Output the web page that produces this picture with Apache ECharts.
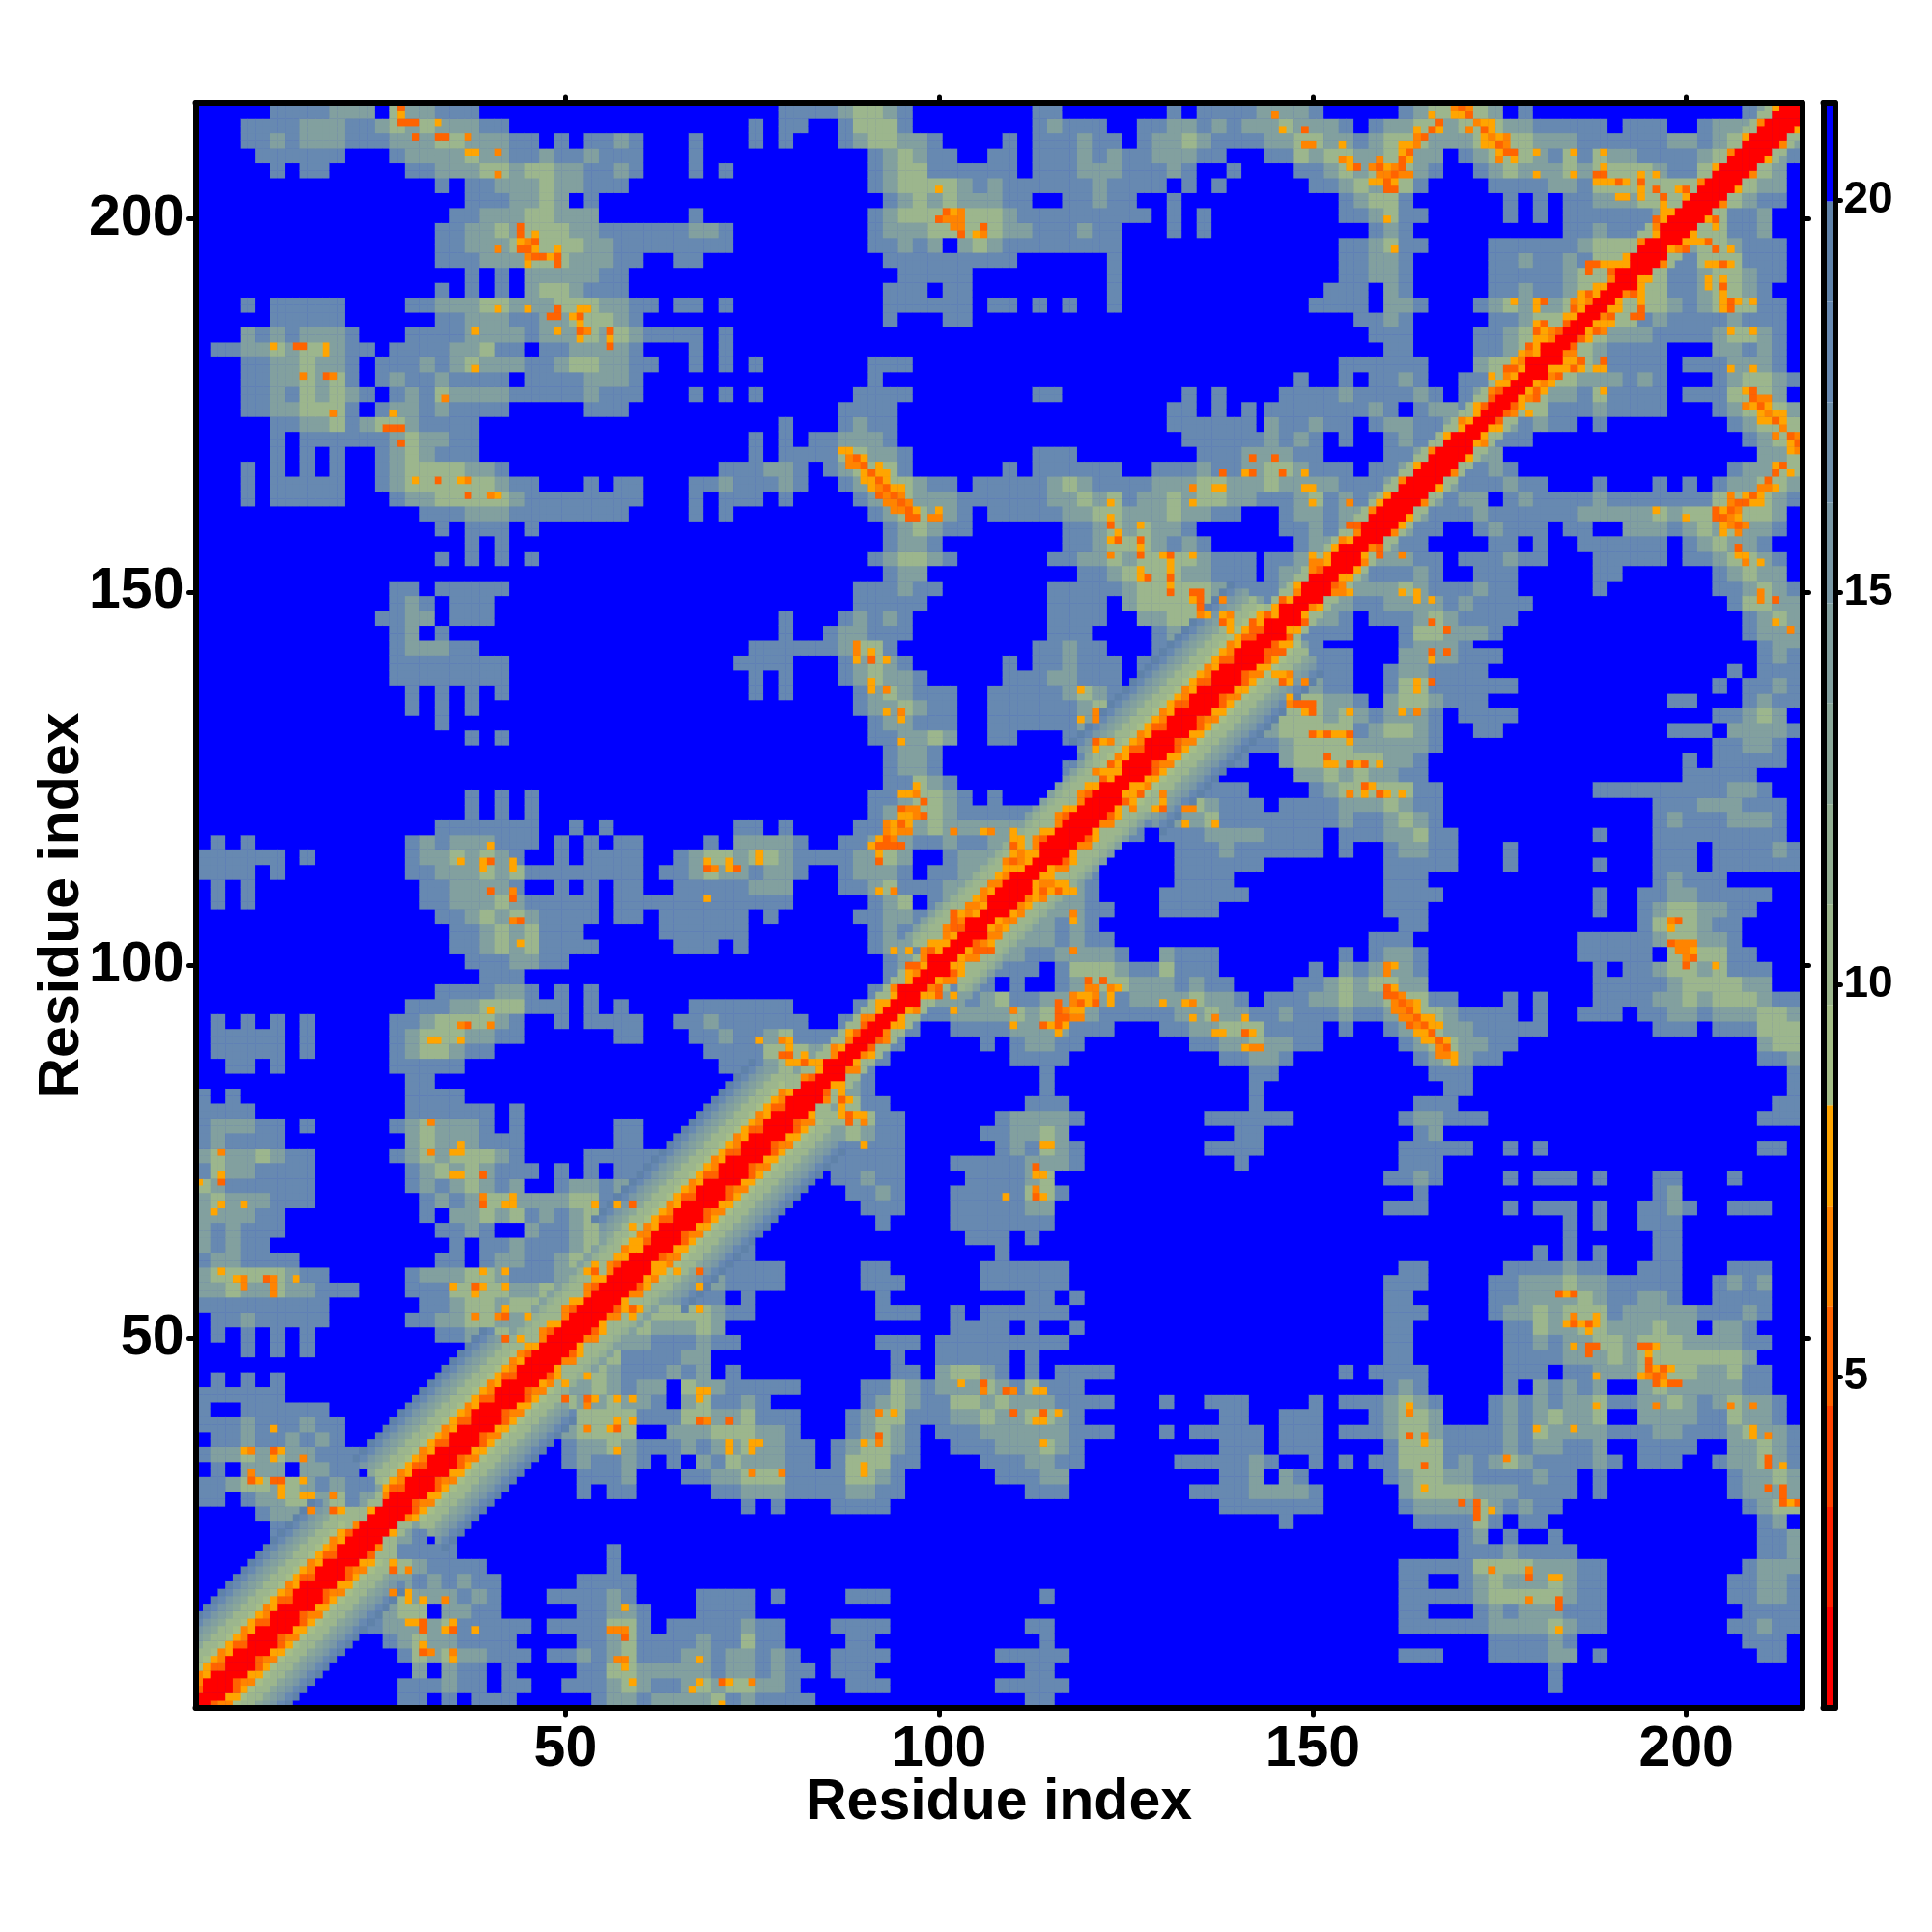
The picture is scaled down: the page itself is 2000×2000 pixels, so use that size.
<!DOCTYPE html>
<html><head><meta charset="utf-8">
<style>html,body{margin:0;padding:0;background:#fff}#c{width:2000px;height:2000px}</style>
<script src="https://cdn.jsdelivr.net/npm/echarts@6/dist/echarts.min.js"></script>
</head><body><div id="c"></div>
<script>
// Distance map. '.' beyond cutoff, a/b/c = far / mid / near grey-green levels.
const levelOfChar = {'.':20.6, a:17.6, b:13.6, c:10.2};
const topLeft = [
".....aaaabbb.cbbaaa",
"...aaaabbbaabcbcbbbaa",
"...aababbbaaabbbccbbbaa.a.aaba...a",
"....aaaaaa...abbbbcbbaabaabaaa...a",
".....a.aa.....aabbbccbccbbaaba...a.a",
"................a.aabbbcbbaaa",
"..................aaabbcb.a",
".................aabbbccbbb......a..",
"................aabbcbcccbbaaaaaabba",
"................aabbbcccccbbaaaaaaaa",
"................aaabbbcccbbbaa..aa",
"..................a.a.bbbbbaa",
"................a.a.a.bccbaaa",
"...a.aaaaa....aabbbccbbbcccbbaa.aa.a",
".....aaaaa......aabbbaabbcccba",
"...bababbba...aaaabbbbabbbcbcbaaaa.a",
".aabbcbccbaa.aaaabbcaa.aabbbba...a.a",
"...aabbcbba.aaababcbbbaabccbbaa..a.a",
"...aabbcbca.abaabaaaa.aaaabbba",
"...aabacbcba.abacbbbbaaaaabaaa...a.a",
"...aabbccca.abbabaaaa.....aaa",
".....aabbcabccbaaaa",
".....a.aaaaaabcbbaa",
".....a.a.a..abcbaaa",
"...a.a.a.a..abccccbba..............a",
"...a.aaaaa..abccccccbaa...a.aa...aab",
"...a.aaaaa...abbcccccbaaaaaaaa...a.a",
"...............aaabbbaaaaaaaa....a.a",
"................a.aaa.a",
"..................a.a",
"................a.a.a.a",
"",
".............aa.aaaaa",
".............aba.aaa",
"............aabb.aaa",
".............ab.a"
];
const topMid = [
"...aaaabccba........aa.......a.aaaab",
".a.aa..accca........abaaa..aabbababb",
".a.a...abccbba....a.aaabaa.abbcbaaaa",
".........abcbaa..aa.aaababaabbbaa",
".........abccaaaaaa.aaabbbaaaba..a",
".........abccccbabaaaaaabaaaa.a.a",
"..........abcbcbbbaa..aabaa..a",
".........abcccccccbaaaaaaaaa.a.a",
".........abbbcccccbbaaabaa...a.a",
".........aabab.bcbaaaaaaaa",
"..........aaaaaaaaa......a",
"...........aaaaa.........a",
"..........aaa.aa.........a",
"..........aaaaaa.aa.a.a..a",
"..........a...aa",
"",
"",
".a.......aaa",
".........a",
".a......aaaa........aa........a.a",
".......aaaa..................aa.a.a",
"...a...abaa..................aaaaaa",
".a.a.aabbba...................aaaaaa",
".a.aaaaccbba........aaa........aaabb",
"aabba.abccca......a.aaaaaa..aaabaabb",
"aaaba..abcccbaa.aaaaabcbaaaabbbccbbb",
"aa.a....abccbbbaaaaaabbcbcabbcbccbba",
".........abccbba.aaaaabbccbbbcbbaa",
"..........abcbaa......aabcbcbba",
"..........abba........aabcccbaba",
".........abccba......aabbcbccccbaaa",
"..........abb..........aabccccbbaaa",
"........aaabaa.......aaaaabcccccbbaa",
"........aaaaa........aaaa.bccccccccb",
"...a...ababa.........aaaa..bbccccccc",
"...a..abbaaa.........aaa....abaccccc"
];
const topRight = [
"bbba.....abccccb.a..............abc",
"bcbbba.abbccbcccbbaaaaa.aaa..abbbc",
"bbccbbabcccbbbccccbbbaaaaaabbabcc",
"aacbccbbccbb.abcccbacacbbaaaabcb",
"..aabcbcccba..abcbbbcbccccbaacc",
"...aabcbcca....aaaabbacccccccc",
".....abcca......a.a.aabbbcccc",
".....aabcaa.....a.a.aaaaaabb",
".......aba..........aabaaab",
".....aabcaa....aaaaaabccc",
".....aabba.....aabaabacc",
".....aabba.....aaaaabcc",
"....aaa.ba.....aabaabc",
"...aaaa.bba...abcbbbc",
"......aaba.....aabcc",
".......aaa....aabccc",
"........aa....aabcc",
".....aaaaaa...bccc",
"..a..a.aaba..aabc",
".aaaabaaaaba.abc",
"aaaaaaaba.abbab",
"baabaa.abbaabb",
"baba.a..abaa",
"bbaa....aab",
"ccbaaa.aab",
"cbbbbaaab",
"aabcabab",
".abbabb",
".aabab",
"..abb",
"aabb",
"abb",
"ab",
"a"
];
const midLeft = [
".............abbbaa",
".............aaaaaaaa",
".............aaaaaaaa",
"..............a.a.a.a",
"..............a.a.a",
"................a",
"..................a.a",
"",
"",
"",
"..................a.a.a",
"..................a.a.a",
"................aaaaaaa..a.a",
".a.a..........ababbbaaa.a.a.aa....a",
"aaaaaa.a......abbcbcba..a.aaaa..abcc",
"aaaa.a........aabbbcbcaaaaaaaa.aabcb",
".a.a...........aabbbba..a.a.aa..aaaa",
".a.a...........aabbbcbaaaaa.aaaaaaaa",
"................aabcbcbaaaa.aa.aaaaa",
".................aabcbcaaa.....aaaaa",
".................aabcbcaaaa.....aaa",
"..................aaabbaa",
"...................aaa",
"................aaaabba.a.a",
"..............aaabbcccaaa.a.a....aaa",
".a.a.a.a.....aabccccba..a.aaaa..aaba",
".aaaaa.a.....abcccbbaa......aa...aab",
".aaaaa.a.....abccbaa..............aa",
"..aa.a.......aaaaa.................a",
"..............aa",
"a.a...........aaaa",
"aaaa..........aaaaaa.a",
"abbbaa.a.....abcbbba.a......aa",
"abaaaa........bcbbbaaa......aa..aabb",
"bcbbcbaa.....abcbcccba....aaaaaabbcc",
"acbbaaaa......abcbcbaaa.a.a.aabbcccc"
];
const midMid = [
".aaaaaabcca.........aabaa...abbbc",
"aaaa...abcba......a.aabaaa.aabcc",
".a.a...abcbba.....aaabbaaa.abcc",
".a.a....abcbaaa..aaaaabcbaaabc",
"........abbcbaa..aaaaaabcbab",
".........abbaaa..aaaaaabccb",
".........aabbcb..aa...abcc",
"..........abba.........ab",
"..........abba........aa",
"..........aacba.......aa",
".........aabccba.a...aab",
".........abcccbaaaaaaab",
"aa.a....aabcbcbbbbbabb",
"bbbba..aabcbaabaabcab",
"bccbaaaabbcb..abbacc",
"babba..abbba.aabccc",
"abbb...aabcaaabccc",
"aaaa.....abc.aacc",
"a.a.....aabbaabc",
"a........abaaab",
"a........abbab",
"..........abc",
"..........aab",
".........ab",
"aaaa....ab",
"aaaaa..ab",
"aabcaaa",
"aacccb",
"abbcb",
".abcc",
"a.ac",
"cc",
"c"
];
const botLeft = [
"cbaaaaaa......ababcbab..abbabbacc",
"bcbbbaaa.......ababccbbbbccabca",
"bbbbaa.........a.bbcbcababcbc..",
"babaaa..........aaba..baabcbac",
"babaa............a.aabaaabcbb",
"abbaaaa.........aa.abbaabccc",
"bcccccbaa.....abbbccbaaabc",
"bbcbbcbbaaa...aaaccccbbc",
"aaaaaaaaa......aabccbcc",
".aabaaaaa.....aabbccbb",
".a.a.a.a........aabbcb",
"...a.a.a..........abb",
"..................aab",
".a.a.a..........aab",
"aaaaaa.........aabcc",
"a..aaaaaa.....aabc",
"aaabaaabaa...abc",
".aabaababa...ab",
"abbcbcbbaaa..ab",
".a.bbb.bbaa.ab",
"aabccbcbabaab",
"aa.abbccbcab",
"....abbcbcc",
".....aabb.c",
".....aaabc",
"....aaabc",
"...aabc",
"..aabc",
".aabc",
"aabc",
"abc",
"bc",
"c"
];
// Band along the diagonal: value at each |i-j|, per stretch of the chain; a short list repeats along the strip.
const bandWide = [1.5,1.5,[1.5,5.3,1.5],[5.3,6.6,7.8],[7.8,6.6,7.8],9.5,10,11,12.5,14,16,18,19.5];
const bandMedium = [1.5,1.5,1.5,[5.3,7.8,6.6],[7.8,10.5,6.6],10.5,11,12,14];
const bandNarrow = [1.5,1.5,1.5,[7.8,11,6.6,11],11];
const bandStarts = [1,23,28,46,60,82,100,124,146];
const bandEnds = [23,28,46,60,82,100,124,146,216];
const bandKinds = [bandWide,bandNarrow,bandWide,bandMedium,bandWide,bandNarrow,bandMedium,bandWide,bandNarrow];
// Individual close contacts [x,y].
const hotDark = [[28,215],[28,213],[29,213],[30,213],[30,211],[33,211],[34,211],[44,199],[44,198],[46,197],[44,196],[45,196],[46,195],[47,195],[49,195],[49,194],[49,188],[48,187],[49,187],[52,187],[52,185],[56,185],[56,183],[14,183],[15,183],[18,179],[26,172],[27,172],[28,172],[28,170],[33,165],[37,163],[100,200],[101,201],[103,198],[106,199],[89,168],[90,167],[91,166],[92,165],[93,164],[92,163],[94,163],[95,162],[96,161],[96,160],[97,160],[123,159],[124,157],[127,157],[127,155],[131,155],[131,152],[131,150],[128,152],[134,150],[135,150],[135,149],[135,148],[138,146],[142,146],[142,145],[143,145],[138,166],[142,166],[142,168],[170,215],[167,213],[171,214],[166,212],[173,212],[165,211],[175,210],[163,209],[176,209],[177,209],[162,208],[162,207],[159,207],[156,207],[161,206],[160,205],[160,204],[161,204],[149,212],[188,206],[189,206],[191,205],[194,205],[196,204],[197,203],[196,200],[200,204],[187,194],[188,194],[187,193],[190,193],[187,190],[185,188],[181,186],[180,185],[183,185],[184,186],[179,183],[176,180],[177,180],[174,176],[175,177],[173,175],[145,168],[146,166],[155,159],[156,159],[151,153],[146,149],[144,147],[181,189],[40,114],[40,110],[43,109],[44,106],[69,113],[37,92],[39,72],[91,141],[121,130],[123,127],[122,125],[98,122],[95,121],[98,120],[95,119],[93,117],[92,116],[93,116],[94,116],[95,116],[92,114],[110,116],[110,114],[102,107],[102,106],[103,105],[96,100],[97,100],[90,92],[89,91],[79,88],[80,88],[82,87],[83,85],[73,113],[4,71],[10,58],[39,68],[59,68],[38,57],[42,53],[42,50],[54,59],[11,35],[8,31],[11,31],[12,31],[19,27]];
const hotOrange = [[37,211],[41,209],[41,206],[45,197],[41,196],[45,195],[53,185],[15,179],[19,179],[34,176],[19,174],[37,165],[40,163],[103,201],[101,200],[102,200],[103,200],[102,199],[103,199],[106,198],[88,168],[88,167],[89,167],[92,164],[93,163],[95,163],[93,162],[94,162],[96,162],[94,161],[95,161],[99,160],[100,160],[123,155],[135,147],[138,149],[139,147],[134,164],[145,214],[169,215],[171,215],[172,213],[171,212],[164,211],[174,211],[176,211],[164,210],[176,210],[175,208],[159,208],[158,207],[161,207],[159,206],[160,206],[162,206],[163,206],[149,210],[150,210],[154,208],[196,199],[190,192],[185,189],[187,189],[182,184],[179,182],[178,181],[176,179],[155,162],[156,158],[150,154],[151,154],[148,150],[43,110],[43,106],[70,113],[36,92],[40,92],[32,79],[32,75],[4,75],[89,143],[89,142],[93,137],[95,134],[121,134],[121,133],[123,130],[121,126],[97,123],[96,121],[97,121],[97,120],[93,119],[93,118],[95,118],[96,118],[94,117],[102,118],[107,118],[111,115],[111,114],[109,114],[109,112],[107,111],[108,111],[106,110],[106,109],[104,108],[105,108],[104,107],[103,106],[94,110],[97,99],[91,93],[88,90],[86,88],[79,90],[7,57],[7,58],[11,58],[11,57],[11,56],[39,69],[60,64],[41,53],[38,53],[8,35],[15,34],[8,32],[19,29],[16,27]];
const hotYellow = [[28,214],[33,213],[37,209],[38,209],[46,198],[44,197],[46,196],[48,195],[49,196],[45,194],[41,188],[45,188],[51,187],[52,188],[53,188],[52,186],[52,184],[49,185],[38,185],[56,184],[11,183],[18,183],[18,182],[38,180],[27,174],[30,165],[36,165],[41,163],[100,204],[102,201],[105,198],[87,169],[88,169],[90,168],[92,167],[90,166],[92,166],[93,166],[90,165],[91,165],[93,165],[91,164],[94,164],[95,164],[97,161],[100,161],[123,162],[123,160],[127,159],[124,158],[123,157],[127,156],[130,155],[131,154],[131,153],[131,151],[134,155],[127,153],[127,152],[134,149],[136,147],[138,147],[139,146],[139,145],[134,162],[137,164],[138,164],[141,166],[169,214],[170,214],[166,214],[173,213],[174,213],[164,212],[167,212],[174,212],[146,212],[173,211],[175,211],[162,210],[163,210],[173,210],[174,210],[162,209],[175,209],[163,208],[177,208],[160,207],[158,205],[159,205],[161,205],[154,210],[155,208],[155,207],[160,200],[161,196],[180,209],[185,209],[189,209],[180,206],[185,206],[189,207],[188,205],[189,205],[190,205],[192,205],[194,206],[196,206],[191,203],[192,203],[194,204],[194,203],[197,202],[197,201],[198,201],[197,200],[196,198],[199,204],[200,203],[177,189],[180,189],[180,188],[189,194],[190,194],[191,194],[192,194],[189,191],[186,190],[188,190],[186,189],[186,188],[185,187],[180,186],[181,185],[181,184],[180,184],[180,183],[178,182],[180,182],[177,181],[178,180],[177,179],[174,179],[175,178],[176,178],[172,174],[171,173],[170,172],[149,166],[149,164],[150,164],[150,162],[159,162],[155,157],[150,155],[153,156],[152,154],[148,151],[147,149],[145,148],[145,147],[40,116],[36,114],[39,114],[39,113],[43,114],[43,113],[69,114],[72,114],[72,113],[69,109],[44,103],[40,94],[32,90],[33,90],[36,90],[35,75],[36,75],[36,76],[35,72],[36,72],[4,72],[89,141],[91,142],[93,141],[91,138],[91,137],[93,134],[95,133],[95,130],[119,137],[119,133],[122,130],[121,129],[124,127],[123,126],[124,126],[123,125],[97,124],[95,123],[96,123],[95,120],[96,120],[94,119],[96,119],[94,118],[92,117],[91,116],[92,115],[106,118],[110,118],[110,117],[111,117],[111,116],[110,115],[112,115],[113,115],[112,114],[109,113],[110,113],[111,113],[108,112],[107,110],[105,109],[106,108],[103,107],[105,107],[102,104],[101,103],[100,102],[94,102],[96,102],[92,110],[98,100],[96,98],[94,96],[93,95],[92,94],[87,89],[76,90],[80,90],[80,89],[82,88],[80,87],[81,87],[83,87],[84,86],[76,115],[76,114],[1,71],[4,68],[7,68],[3,67],[4,59],[6,58],[14,58],[43,69],[42,68],[43,68],[54,68],[57,68],[59,65],[60,63],[60,62],[39,59],[42,59],[35,57],[39,57],[42,57],[38,56],[42,54],[45,53],[44,50],[54,60],[53,59],[11,38],[7,35],[12,35],[11,34],[15,31],[9,31],[12,30],[12,29],[15,29],[16,29],[20,27]];
const hotValues = {dark:5.3, orange:6.6, yellow:7.8};

const N = 215;
const residues = Array.from({length:N},(_,i)=>String(i+1));
const xTickLabels = ['50','100','150','200'];
const barTicks = [5,10,15,20];
const barBreaks = [0.78,2.06,3.34,4.62,5.9,7.18,8.46,9.74,11.02,12.3,13.58,14.86,16.14,17.42,18.7,19.98,21.23];
const barColors = ['#ff0000','#ff2100','#ff4200','#ff6300','#ff8400','#ffa500',
  '#a5be87','#9cb68d','#93af93','#8aa799','#82a09f','#7998a5','#7091ab','#6789b1','#5f82a9','#0000ff'];

const m = [];
for (let i=0;i<=N;i++) m.push(new Array(N+1).fill(20.6));
function put(x,y,v){ if(x>=1&&y>=1&&x<=N&&y<=N){ m[x][y]=v; m[y][x]=v; } }
function paint(rows,xBase,yTop){
  rows.forEach((row,r)=>{ for(let c=0;c<row.length;c++){ const v=levelOfChar[row[c]];
    for(let dx=0;dx<2;dx++)for(let dy=0;dy<2;dy++){ const x=xBase+2*c+dx,y=yTop-2*r-dy; if(x<y) put(x,y,v); } } });
}
paint(topLeft,1,215); paint(topMid,73,215); paint(topRight,144,215);
paint(midLeft,1,143); paint(midMid,73,143); paint(botLeft,1,71);
for(let i=1;i<=N;i++)for(let j=i;j<=N;j++){
  const d=j-i, mid=(i+j)/2;
  for(let s=0;s<bandStarts.length;s++) if(mid>=bandStarts[s]&&mid<bandEnds[s]){
    const p=bandKinds[s];
    if(d<p.length){ const e=p[d]; put(i,j,Array.isArray(e)?e[i%e.length]:e); }
    break; }
}
hotDark.forEach(h=>put(h[0],h[1],hotValues.dark));
hotOrange.forEach(h=>put(h[0],h[1],hotValues.orange));
hotYellow.forEach(h=>put(h[0],h[1],hotValues.yellow));
const cells=[];
for(let x=1;x<=N;x++)for(let y=1;y<=N;y++)cells.push([x-1,y-1,m[x][y]]);

const font='"Liberation Sans",Arial,sans-serif';
const showTick=(i)=>xTickLabels.includes(residues[i]);
const lineS={color:'#000',width:6,cap:'round'};
const tickS={color:'#000',width:5,cap:'round'};
function axisBase(extra){ return Object.assign({type:'category',data:residues,boundaryGap:true,z:10,nameMoveOverlap:false,
  axisLine:{show:true,onZero:false,lineStyle:lineS},
  axisTick:{show:true,alignWithLabel:true,interval:showTick,length:7,lineStyle:tickS},
  splitLine:{show:false}},extra); }
const pieces=barColors.map((c,i)=>({gte:barBreaks[i],lt:barBreaks[i+1],color:c}));
const chart=echarts.init(document.getElementById('c'),null,{renderer:'canvas'});
chart.setOption({
  animation:false,backgroundColor:'#fff',
  grid:[{left:202.5,top:107,width:1663,height:1661,outerBoundsMode:'none',show:true,backgroundColor:'#0000ff',borderWidth:0},
        {left:1887.5,top:107,width:12,height:1661,outerBoundsMode:'none'}],
  visualMap:{show:false,type:'piecewise',seriesIndex:0,dimension:2,pieces:pieces},
  xAxis:[
    axisBase({gridIndex:0,position:'bottom',name:'Residue index',nameLocation:'middle',nameGap:69,
      nameTextStyle:{fontFamily:font,fontWeight:'bold',fontSize:59,color:'#000'},
      axisLabel:{show:true,interval:showTick,margin:14,fontFamily:font,fontWeight:'bold',fontSize:59,color:'#000'}}),
    axisBase({gridIndex:0,position:'top',axisLabel:{show:false}}),
    {type:'category',gridIndex:1,position:'bottom',data:['bar'],z:10,axisLine:{lineStyle:lineS},axisTick:{show:false},axisLabel:{show:false}},
    {type:'category',gridIndex:1,position:'top',data:['bar'],z:10,axisLine:{lineStyle:lineS},axisTick:{show:false},axisLabel:{show:false}}
  ],
  yAxis:[
    axisBase({gridIndex:0,position:'left',name:'Residue index',nameLocation:'middle',nameGap:108,nameRotate:90,
      nameTextStyle:{fontFamily:font,fontWeight:'bold',fontSize:59,color:'#000'},
      axisLabel:{show:true,interval:showTick,margin:12,fontFamily:font,fontWeight:'bold',fontSize:59,color:'#000'}}),
    axisBase({gridIndex:0,position:'right',axisLabel:{show:false}}),
    {type:'value',gridIndex:1,position:'right',min:barBreaks[0],max:barBreaks[16],z:10,splitLine:{show:false},
      axisLine:{show:true,lineStyle:lineS},
      axisTick:{show:true,customValues:barTicks,length:6,lineStyle:tickS},
      axisLabel:{show:true,customValues:barTicks,margin:9,fontFamily:font,fontWeight:'bold',fontSize:46,color:'#000'}},
    {type:'value',gridIndex:1,position:'left',min:barBreaks[0],max:barBreaks[16],z:10,splitLine:{show:false},
      axisLine:{show:true,lineStyle:lineS},axisTick:{show:false},axisLabel:{show:false}}
  ],
  series:[
    {type:'heatmap',xAxisIndex:0,yAxisIndex:0,data:cells,progressive:0,emphasis:{disabled:true},silent:true},
    {type:'custom',xAxisIndex:2,yAxisIndex:2,silent:true,clip:true,
     data:barColors.map((c,i)=>[0,barBreaks[i],barBreaks[i+1],i]),
     encode:{x:0,y:[1,2]},
     renderItem:(p,api)=>{ const a=api.coord([0,api.value(1)]),b=api.coord([0,api.value(2)]),w=api.size([1,0])[0];
       return {type:'rect',shape:{x:a[0]-w/2,y:b[1],width:w,height:a[1]-b[1]},style:{fill:barColors[api.value(3)]}}; }}
  ]
});
</script></body></html>
